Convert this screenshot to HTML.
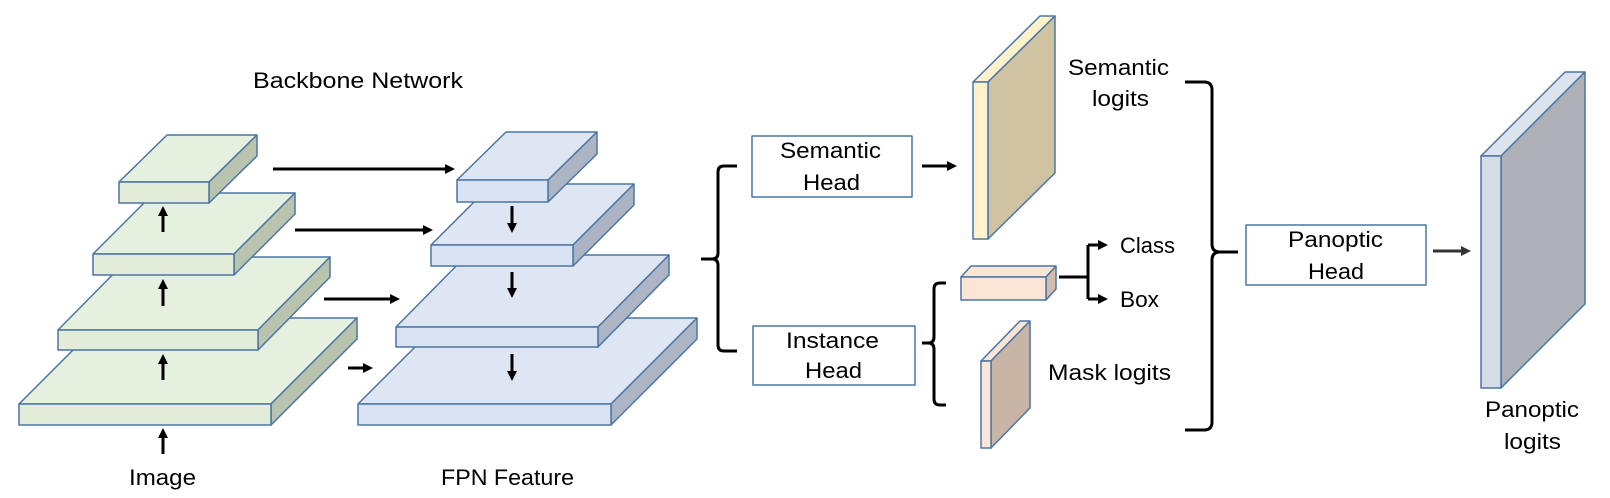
<!DOCTYPE html>
<html><head><meta charset="utf-8"><style>
html,body{margin:0;padding:0;background:#fff;width:1610px;height:498px;overflow:hidden}
svg{display:block}
text{font-family:"Liberation Sans",sans-serif;fill:#000}
</style></head><body>
<svg width="1610" height="498" viewBox="0 0 1610 498" xmlns="http://www.w3.org/2000/svg">
<defs>
<marker id="ah" markerWidth="10" markerHeight="10" refX="6" refY="5" orient="auto" markerUnits="userSpaceOnUse">
<path d="M0,0 L10,5 L0,10 z" fill="#000"/></marker>
<marker id="ahg" markerWidth="10" markerHeight="10" refX="6" refY="5" orient="auto" markerUnits="userSpaceOnUse">
<path d="M0,0 L10,5 L0,10 z" fill="#333"/></marker>
</defs>
<g stroke="#4a76a3" stroke-width="1.5" stroke-linejoin="round">
<polygon points="19,404 105,318 357,318 271,404" fill="#e6f0de"/>
<polygon points="271,404 357,318 357,339 271,425" fill="#b8c4ae"/>
<rect x="19" y="404" width="252" height="21" fill="#e2ecd8"/>
<polygon points="58,330 130,257 330,257 258,330" fill="#e6f0de"/>
<polygon points="258,330 330,257 330,277 258,350" fill="#b8c4ae"/>
<rect x="58" y="330" width="200" height="20" fill="#e2ecd8"/>
<polygon points="93,254 154,193 295,193 234,254" fill="#e6f0de"/>
<polygon points="234,254 295,193 295,214 234,275" fill="#b8c4ae"/>
<rect x="93" y="254" width="141" height="21" fill="#e2ecd8"/>
<polygon points="119,182 167,135 257,135 209,182" fill="#e6f0de"/>
<polygon points="209,182 257,135 257,156 209,203" fill="#b8c4ae"/>
<rect x="119" y="182" width="90" height="21" fill="#e2ecd8"/>
<polygon points="358,404 444,318 697,318 611,404" fill="#dfe6f3"/>
<polygon points="611,404 697,318 697,339 611,425" fill="#adb5c4"/>
<rect x="358" y="404" width="253" height="21" fill="#dae3f3"/>
<polygon points="396,327 467,255 669,255 598,327" fill="#dfe6f3"/>
<polygon points="598,327 669,255 669,275 598,347" fill="#adb5c4"/>
<rect x="396" y="327" width="202" height="20" fill="#dae3f3"/>
<polygon points="431,245 492,184 634,184 573,245" fill="#dfe6f3"/>
<polygon points="573,245 634,184 634,205 573,266" fill="#adb5c4"/>
<rect x="431" y="245" width="142" height="21" fill="#dae3f3"/>
<polygon points="457,180 506,132 597,132 548,180" fill="#dfe6f3"/>
<polygon points="548,180 597,132 597,154 548,202" fill="#adb5c4"/>
<rect x="457" y="180" width="91" height="22" fill="#dae3f3"/>
<rect x="752" y="136" width="160" height="61" fill="#fff"/>
<rect x="753" y="326" width="162" height="59" fill="#fff"/>
<rect x="1246" y="225" width="180" height="60" fill="#fff"/>
<polygon points="973,82 1040,16 1055,16 988,82" fill="#fff2cc"/>
<polygon points="988,82 1055,16 1055,173 988,239" fill="#cfc3a1"/>
<rect x="973" y="82" width="15" height="157" fill="#fff2cc"/>
<polygon points="961,277 971,266 1056,266 1046,277" fill="#fbe5d6"/>
<polygon points="1046,277 1056,266 1056,289 1046,300" fill="#d4bcad"/>
<rect x="961" y="277" width="85" height="23" fill="#fbe5d6"/>
<polygon points="981,361 1020,321 1030,321 991,361" fill="#fbe5d6"/>
<polygon points="991,361 1030,321 1030,408 991,448" fill="#c9b5a6"/>
<rect x="981" y="361" width="10" height="87" fill="#fbe5d6"/>
<polygon points="1481,156 1565,72 1585,72 1501,156" fill="#dde3ec"/>
<polygon points="1501,156 1585,72 1585,304 1501,388" fill="#adb1b7"/>
<rect x="1481" y="156" width="20" height="232" fill="#d6dce5"/>
</g>
<g stroke="#000" stroke-width="3" fill="none">
<line x1="163" y1="454" x2="163" y2="432" marker-end="url(#ah)"/>
<line x1="163" y1="380" x2="163" y2="358" marker-end="url(#ah)"/>
<line x1="163" y1="306" x2="163" y2="283" marker-end="url(#ah)"/>
<line x1="163" y1="232" x2="163" y2="210" marker-end="url(#ah)"/>
<line x1="273" y1="169" x2="451" y2="169" marker-end="url(#ah)"/>
<line x1="295" y1="230" x2="429" y2="230" marker-end="url(#ah)"/>
<line x1="324" y1="299" x2="396" y2="299" marker-end="url(#ah)"/>
<line x1="348" y1="368" x2="369" y2="368" marker-end="url(#ah)"/>
<line x1="512" y1="206" x2="512" y2="229" marker-end="url(#ah)"/>
<line x1="512" y1="272" x2="512" y2="294" marker-end="url(#ah)"/>
<line x1="512" y1="354" x2="512" y2="377" marker-end="url(#ah)"/>
<line x1="922" y1="166" x2="953" y2="166" marker-end="url(#ah)"/>
<path d="M1059,277 H1088 M1088,245 V299"/>
<line x1="1088" y1="245" x2="1104" y2="245" marker-end="url(#ah)"/>
<line x1="1088" y1="299" x2="1104" y2="299" marker-end="url(#ah)"/>
<path d="M737,166 H724 Q718,166 718,172 V253 Q718,259 712,259 H701 M712,259 Q718,259 718,265 V345 Q718,351 724,351 H737"/>
<path d="M946,283 H940 Q934,283 934,289 V337 Q934,343 928,343 H922 M928,343 Q934,343 934,349 V399 Q934,405 940,405 H946"/>
<path d="M1185,82 H1204 Q1212,82 1212,90 V244 Q1212,252 1220,252 H1238 M1220,252 Q1212,252 1212,260 V422 Q1212,430 1204,430 H1185"/>
</g>
<line x1="1433" y1="251" x2="1467" y2="251" stroke="#333" stroke-width="3" marker-end="url(#ahg)"/>
<g font-size="22">
<text x="253" y="88" textLength="210" lengthAdjust="spacingAndGlyphs">Backbone Network</text>
<text x="129" y="485" textLength="67" lengthAdjust="spacingAndGlyphs">Image</text>
<text x="441" y="485" textLength="133" lengthAdjust="spacingAndGlyphs">FPN Feature</text>
<text x="780" y="158" textLength="101" lengthAdjust="spacingAndGlyphs">Semantic</text>
<text x="803" y="190" textLength="57" lengthAdjust="spacingAndGlyphs">Head</text>
<text x="786" y="348" textLength="93" lengthAdjust="spacingAndGlyphs">Instance</text>
<text x="805" y="378" textLength="57" lengthAdjust="spacingAndGlyphs">Head</text>
<text x="1068" y="75" textLength="101" lengthAdjust="spacingAndGlyphs">Semantic</text>
<text x="1092" y="106" textLength="57" lengthAdjust="spacingAndGlyphs">logits</text>
<text x="1120" y="253" textLength="55" lengthAdjust="spacingAndGlyphs">Class</text>
<text x="1120" y="307" textLength="39" lengthAdjust="spacingAndGlyphs">Box</text>
<text x="1048" y="380" textLength="123" lengthAdjust="spacingAndGlyphs">Mask logits</text>
<text x="1288" y="247" textLength="95" lengthAdjust="spacingAndGlyphs">Panoptic</text>
<text x="1308" y="279" textLength="56" lengthAdjust="spacingAndGlyphs">Head</text>
<text x="1485" y="417" textLength="94" lengthAdjust="spacingAndGlyphs">Panoptic</text>
<text x="1504" y="449" textLength="57" lengthAdjust="spacingAndGlyphs">logits</text>
</g>
</svg>
</body></html>
